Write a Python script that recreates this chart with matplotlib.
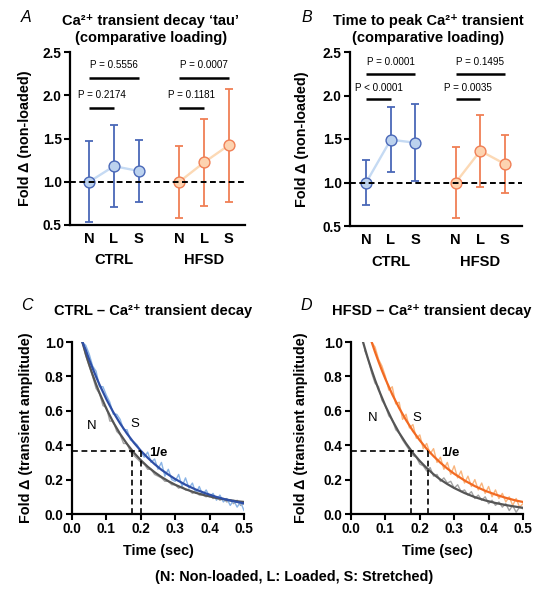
import numpy as np
import matplotlib
matplotlib.use('Agg')
import matplotlib.pyplot as plt

plt.rcParams['font.family'] = ['Liberation Sans', 'DejaVu Sans']
plt.rcParams['axes.linewidth'] = 1.5

# ---------------- data ----------------
conditions = ['N', 'L', 'S']
groups = ['CTRL', 'HFSD']

tau_ctrl_mean = [1.00, 1.18, 1.125]
tau_ctrl_sd = [0.47, 0.475, 0.36]
tau_hfsd_mean = [1.00, 1.223, 1.422]
tau_hfsd_sd = [0.418, 0.502, 0.652]

ttp_ctrl_mean = [1.00, 1.492, 1.457]
ttp_ctrl_sd = [0.254, 0.376, 0.442]
ttp_hfsd_mean = [1.00, 1.364, 1.213]
ttp_hfsd_sd = [0.404, 0.411, 0.336]

# (group, cond a, cond b, bar level, label)
tau_pvals = [(0, 0, 1, 1.85, 'P = 0.2174'), (0, 0, 2, 2.20, 'P = 0.5556'),
             (1, 0, 1, 1.85, 'P = 0.1181'), (1, 0, 2, 2.20, 'P = 0.0007')]
ttp_pvals = [(0, 0, 1, 1.957, 'P < 0.0001'), (0, 0, 2, 2.252, 'P = 0.0001'),
             (1, 0, 1, 1.957, 'P = 0.0035'), (1, 0, 2, 2.252, 'P = 0.1495')]

# fitted decay curves
fit_t_c = [0.03, 0.04, 0.05, 0.06, 0.07, 0.08, 0.10, 0.12, 0.14, 0.16, 0.18, 0.20,
           0.22, 0.24, 0.26, 0.28, 0.30, 0.33, 0.36, 0.39, 0.42, 0.45, 0.48, 0.50]
ctrl_N_fit = [1.000, 0.931, 0.868, 0.809, 0.754, 0.703, 0.612, 0.533, 0.465, 0.407, 0.356, 0.313,
              0.275, 0.243, 0.215, 0.191, 0.170, 0.144, 0.123, 0.107, 0.093, 0.083, 0.074, 0.070]
ctrl_S_fit = [1.000, 0.954, 0.898, 0.847, 0.798, 0.752, 0.667, 0.592, 0.526, 0.467, 0.414, 0.368,
              0.327, 0.290, 0.257, 0.229, 0.203, 0.170, 0.142, 0.119, 0.099, 0.083, 0.070, 0.062]

fit_t_dN = [0.035, 0.04, 0.05, 0.06, 0.07, 0.08, 0.10, 0.12, 0.14, 0.16, 0.18, 0.20,
            0.22, 0.24, 0.26, 0.28, 0.30, 0.33, 0.36, 0.39, 0.42, 0.45, 0.48, 0.50]
hfsd_N_fit = [1.000, 0.965, 0.898, 0.837, 0.779, 0.725, 0.629, 0.545, 0.472, 0.410, 0.355, 0.308,
              0.267, 0.231, 0.200, 0.174, 0.151, 0.122, 0.098, 0.079, 0.064, 0.052, 0.042, 0.036]
fit_t_dS = [0.06, 0.07, 0.08, 0.09, 0.10, 0.12, 0.14, 0.16, 0.18, 0.20, 0.22,
            0.24, 0.26, 0.28, 0.30, 0.33, 0.36, 0.39, 0.42, 0.45, 0.48, 0.50]
hfsd_S_fit = [1.000, 0.941, 0.886, 0.834, 0.785, 0.695, 0.616, 0.546, 0.483, 0.428, 0.379,
              0.336, 0.298, 0.264, 0.234, 0.195, 0.162, 0.135, 0.113, 0.094, 0.078, 0.070]

# raw traces (sampled every 0.01 s up to 0.50 s)
ctrl_N_raw = [1.00, 0.92, 0.86, 0.80, 0.73, 0.70, 0.63, 0.62, 0.54, 0.54, 0.48, 0.46,
              0.41, 0.41, 0.36, 0.34, 0.32, 0.30, 0.29, 0.26, 0.26, 0.23, 0.22, 0.21,
              0.19, 0.19, 0.17, 0.17, 0.15, 0.16, 0.14, 0.14, 0.12, 0.13, 0.11, 0.11,
              0.10, 0.11, 0.09, 0.10, 0.08, 0.09, 0.07, 0.08, 0.06, 0.08, 0.05, 0.06]
ctrl_S_raw = [1.00, 0.98, 0.93, 0.86, 0.83, 0.74, 0.74, 0.69, 0.65, 0.58, 0.58, 0.55,
              0.49, 0.49, 0.43, 0.42, 0.40, 0.36, 0.33, 0.36, 0.30, 0.32, 0.26, 0.30,
              0.22, 0.26, 0.20, 0.19, 0.23, 0.16, 0.21, 0.15, 0.18, 0.12, 0.16, 0.11,
              0.14, 0.10, 0.12, 0.08, 0.11, 0.07, 0.09, 0.05, 0.08, 0.04, 0.07, 0.02]
hfsd_N_raw = [0.95, 0.90, 0.82, 0.76, 0.74, 0.66, 0.63, 0.57, 0.55, 0.49, 0.47, 0.43,
              0.40, 0.37, 0.34, 0.33, 0.29, 0.28, 0.25, 0.27, 0.22, 0.23, 0.19, 0.21,
              0.18, 0.19, 0.15, 0.17, 0.13, 0.14, 0.11, 0.13, 0.09, 0.11, 0.08, 0.10,
              0.06, 0.08, 0.05, 0.07, 0.04, 0.06, 0.02, 0.05, 0.01, 0.04, 0.03]
hfsd_S_raw = [1.00, 0.97, 0.90, 0.86, 0.80, 0.72, 0.74, 0.64, 0.65, 0.55, 0.58, 0.50,
              0.52, 0.44, 0.46, 0.38, 0.41, 0.35, 0.38, 0.30, 0.33, 0.26, 0.30, 0.23,
              0.28, 0.21, 0.25, 0.18, 0.22, 0.16, 0.20, 0.14, 0.18, 0.12, 0.16, 0.10,
              0.14, 0.09, 0.12, 0.07, 0.10, 0.05, 0.09, 0.04, 0.06]
raw_start = {'ctrl_N': 0.03, 'ctrl_S': 0.03, 'hfsd_N': 0.04, 'hfsd_S': 0.06}

# time at which each fit reaches 1/e
tau_marks_ctrl = [0.175, 0.20]
tau_marks_hfsd = [0.175, 0.225]

# ---------------- styles ----------------
ctrl_dark, ctrl_fill, ctrl_line = '#4a68b8', '#bcd2ee', '#c5daf3'
hfsd_dark, hfsd_fill, hfsd_line = '#f07f55', '#fdd3b0', '#fcd9b5'
grey_fit, grey_raw = '#555555', '#a3a3a3'
blue_fit, blue_raw = '#2e4fa6', '#8ab4e6'
orange_fit, orange_raw = '#f26a22', '#f9b57e'

W, H = 540, 589
fig = plt.figure(figsize=(W / 100, H / 100), dpi=100)


def fx(px):
    return px / W


def fy(py):
    return 1 - py / H


def ax_rect(l, r, t, b):
    return [fx(l), fy(b), fx(r) - fx(l), fy(t) - fy(b)]


group_offset = 3.65
TICKFS = 9.8
LABFS = 10.4
CATFS = 10.6
TFS = 10.5


def style_axes(ax):
    for s in ['top', 'right']:
        ax.spines[s].set_visible(False)
    ax.spines['left'].set_linewidth(1.6)
    ax.spines['bottom'].set_linewidth(1.6)
    ax.tick_params(axis='y', length=4, width=1.5, labelsize=TICKFS, pad=2)
    for lab in ax.get_yticklabels() + ax.get_xticklabels():
        lab.set_fontweight('bold')


def dot_panel(ax, ctrl_m, ctrl_s, hfsd_m, hfsd_s, pvals, xlim, text_off):
    all_x = []
    for gi, (m, s, dark, fill, line) in enumerate([
            (ctrl_m, ctrl_s, ctrl_dark, ctrl_fill, ctrl_line),
            (hfsd_m, hfsd_s, hfsd_dark, hfsd_fill, hfsd_line)]):
        x = np.arange(len(m)) + gi * group_offset
        all_x.extend(x)
        ax.plot(x, m, color=line, lw=1.7, zorder=2)
        ax.errorbar(x, m, yerr=s, fmt='none', ecolor=dark, elinewidth=1.3,
                    capsize=3.0, capthick=1.3, zorder=3)
        ax.plot(x, m, 'o', ms=7.8, mfc=fill, mec=dark, mew=1.0, zorder=4)
    ax.axhline(1.0, color='black', lw=1.4, dashes=(3, 1.8), zorder=5)
    for g, a, b, lvl, lab in pvals:
        xa, xb = a + g * group_offset, b + g * group_offset
        ax.plot([xa, xb], [lvl, lvl], color='black', lw=1.8, solid_capstyle='butt')
        ax.text((xa + xb) / 2, lvl + text_off, lab, ha='center', va='center',
                fontsize=7.1)
    ax.set_ylim(0.5, 2.5)
    ax.set_yticks([0.5, 1.0, 1.5, 2.0, 2.5])
    ax.set_yticklabels(['0.5', '1.0', '1.5', '2.0', '2.5'])
    ax.set_xlim(*xlim)
    ax.set_xticks(all_x)
    ax.set_xticklabels(conditions * 2)
    ax.tick_params(axis='x', length=0, labelsize=CATFS, pad=5)
    style_axes(ax)
    for gi, g in enumerate(groups):
        ax.text(1 + gi * group_offset, -0.205, g, transform=ax.get_xaxis_transform(),
                ha='center', va='center', fontsize=CATFS, fontweight='bold')
    ax.set_ylabel('Fold Δ (non-loaded)', fontsize=LABFS, fontweight='bold')


# Panel A
axA = fig.add_axes(ax_rect(70, 245, 52, 225))
dot_panel(axA, tau_ctrl_mean, tau_ctrl_sd, tau_hfsd_mean, tau_hfsd_sd, tau_pvals,
          (-0.78, 6.31), 0.15)
axA.yaxis.set_label_coords(-0.217, 0.5)

# Panel B
axB = fig.add_axes(ax_rect(350, 522, 52, 226))
dot_panel(axB, ttp_ctrl_mean, ttp_ctrl_sd, ttp_hfsd_mean, ttp_hfsd_sd, ttp_pvals,
          (-0.66, 6.35), 0.13)
axB.yaxis.set_label_coords(-0.238, 0.5)


def decay_panel(ax, tN, fitN, tS, fitS, rawN, rawN0, rawS, rawS0,
                colS_fit, colS_raw, marks, pos):
    tn = np.linspace(rawN0, 0.50, len(rawN))
    ts = np.linspace(rawS0, 0.50, len(rawS))
    ax.plot(tn, rawN, color=grey_raw, lw=1.0, zorder=2)
    ax.plot(ts, rawS, color=colS_raw, lw=1.0, zorder=2)
    ax.plot(tN, fitN, color=grey_fit, lw=1.6, zorder=3)
    ax.plot(tS, fitS, color=colS_fit, lw=1.6, zorder=4)
    lvl = np.exp(-1)
    ax.plot([0, max(marks)], [lvl, lvl], color='black', lw=1.2, dashes=(3.5, 2.2), zorder=5)
    for m in marks:
        ax.plot([m, m], [0, lvl], color='black', lw=1.2, dashes=(3.5, 2.2), zorder=5)
    (nx, ny), (sx, sy), (ex, ey) = pos
    ax.text(nx, ny, 'N', ha='center', va='center', fontsize=9.5)
    ax.text(sx, sy, 'S', ha='center', va='center', fontsize=9.5)
    ax.text(ex, ey, '1/e', ha='center', va='center', fontsize=9.5, fontweight='bold')
    ax.set_xlim(0, 0.5)
    ax.set_ylim(0, 1.0)
    ax.set_xticks([0.0, 0.1, 0.2, 0.3, 0.4, 0.5])
    ax.set_xticklabels(['0.0', '0.1', '0.2', '0.3', '0.4', '0.5'])
    ax.set_yticks([0.0, 0.2, 0.4, 0.6, 0.8, 1.0])
    ax.set_yticklabels(['0.0', '0.2', '0.4', '0.6', '0.8', '1.0'])
    ax.tick_params(axis='x', length=4, width=1.5, labelsize=TICKFS, pad=2)
    style_axes(ax)
    ax.set_xlabel('Time (sec)', fontsize=LABFS, fontweight='bold')
    ax.xaxis.set_label_coords(0.5, -0.175)
    ax.set_ylabel('Fold Δ (transient amplitude)', fontsize=LABFS, fontweight='bold')


axC = fig.add_axes(ax_rect(72, 244, 342, 514))
decay_panel(axC, fit_t_c, ctrl_N_fit, fit_t_c, ctrl_S_fit,
            ctrl_N_raw, raw_start['ctrl_N'], ctrl_S_raw, raw_start['ctrl_S'],
            blue_fit, blue_raw, tau_marks_ctrl,
            ((0.057, 0.51), (0.183, 0.525), (0.25, 0.355)))
axC.yaxis.set_label_coords(-0.227, 0.5)

axD = fig.add_axes(ax_rect(351, 523, 342, 514))
decay_panel(axD, fit_t_dN, hfsd_N_fit, fit_t_dS, hfsd_S_fit,
            hfsd_N_raw, raw_start['hfsd_N'], hfsd_S_raw, raw_start['hfsd_S'],
            orange_fit, orange_raw, tau_marks_hfsd,
            ((0.062, 0.56), (0.19, 0.56), (0.288, 0.355)))
axD.yaxis.set_label_coords(-0.25, 0.5)

# Titles & panel letters
fig.text(fx(151), fy(20.5), 'Ca²⁺ transient decay ‘tau’', ha='center', va='center',
         fontsize=TFS, fontweight='bold')
fig.text(fx(151), fy(38), '(comparative loading)', ha='center', va='center',
         fontsize=TFS, fontweight='bold')
fig.text(fx(428), fy(21), 'Time to peak Ca²⁺ transient', ha='center', va='center',
         fontsize=TFS, fontweight='bold')
fig.text(fx(428), fy(38), '(comparative loading)', ha='center', va='center',
         fontsize=TFS, fontweight='bold')
fig.text(fx(153), fy(311), 'CTRL – Ca²⁺ transient decay', ha='center', va='center',
         fontsize=TFS, fontweight='bold')
fig.text(fx(432), fy(311), 'HFSD – Ca²⁺ transient decay', ha='center', va='center',
         fontsize=TFS, fontweight='bold')
for lab, x, y in [('A', 26, 18), ('B', 307, 18), ('C', 27, 306), ('D', 306, 305)]:
    fig.text(fx(x), fy(y), lab, ha='center', va='center', fontsize=11.5, style='italic')

fig.text(fx(294), fy(577), '(N: Non-loaded, L: Loaded, S: Stretched)', ha='center',
         va='center', fontsize=LABFS, fontweight='bold')

fig.savefig('out.png', dpi=100)
